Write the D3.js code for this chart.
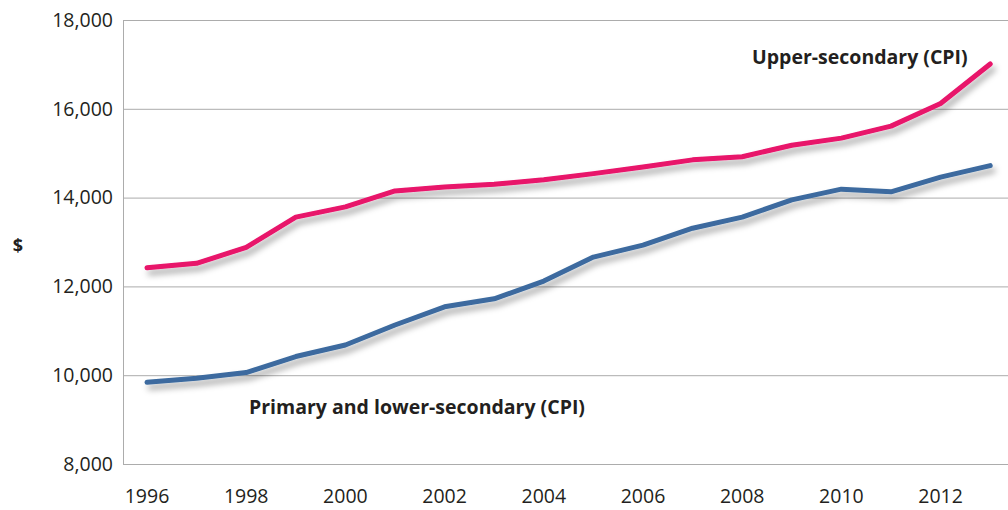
<!DOCTYPE html>
<html>
<head>
<meta charset="utf-8">
<script src="https://cdn.jsdelivr.net/npm/d3@7"></script>
<style>
  body { margin: 0; background: #fff; }
  text { font-family: 'Open Sans', 'Noto Sans', sans-serif; fill: #231f20; }
</style>
</head>
<body>
<div id="chart"></div>
<script>
const years = [1996, 1997, 1998, 1999, 2000, 2001, 2002, 2003, 2004, 2005, 2006, 2007, 2008, 2009, 2010, 2011, 2012, 2013];
const upperSecondary = [12420, 12520, 12880, 13560, 13790, 14150, 14240, 14300, 14400, 14540, 14690, 14850, 14920, 15180, 15340, 15610, 16120, 17010];
const primaryLower = [9840, 9930, 10060, 10420, 10680, 11130, 11540, 11720, 12120, 12660, 12930, 13310, 13560, 13950, 14190, 14130, 14460, 14720];
const yTicks = [8000, 10000, 12000, 14000, 16000, 18000];
const xTicks = [1996, 1998, 2000, 2002, 2004, 2006, 2008, 2010, 2012];

const margin = { top: 20, right: 0, bottom: 46, left: 123 };
const width = 1008 - margin.left - margin.right;
const height = 510 - margin.top - margin.bottom;

const xScale = d3.scaleLinear()
  .domain([1996, 2012])
  .range([24, 24 + 16 * 49.6]);

const yScale = d3.scaleLinear()
  .domain([8000, 18000])
  .range([height, 0]);

const svg = d3.select('#chart').append('svg')
  .attr('width', 1008)
  .attr('height', 510)
  .append('g')
  .attr('transform', `translate(${margin.left},${margin.top})`);

const defs = svg.append('defs');
defs.append('filter')
  .attr('id', 'shadow')
  .attr('x', '-5%').attr('y', '-20%')
  .attr('width', '110%').attr('height', '150%')
  .append('feDropShadow')
  .attr('dx', 3)
  .attr('dy', 5)
  .attr('stdDeviation', 3)
  .attr('flood-color', '#000')
  .attr('flood-opacity', 0.35);

// gridlines
svg.append('g')
  .selectAll('line')
  .data(yTicks)
  .enter().append('line')
  .attr('x1', 0)
  .attr('x2', width)
  .attr('y1', d => yScale(d) + 0.5)
  .attr('y2', d => yScale(d) + 0.5)
  .style('stroke', '#acacac')
  .style('stroke-width', 1);

// y axis line
svg.append('line')
  .attr('x1', 0.5).attr('x2', 0.5)
  .attr('y1', 0).attr('y2', height + 0.5)
  .style('stroke', '#acacac');

// y tick labels
svg.append('g')
  .selectAll('text')
  .data(yTicks)
  .enter().append('text')
  .attr('x', -10)
  .attr('y', d => yScale(d))
  .attr('dy', '0.35em')
  .style('text-anchor', 'end')
  .style('font-size', '19.5px')
  .text(d => d3.format(',')(d));

// x tick labels
svg.append('g')
  .selectAll('text')
  .data(xTicks)
  .enter().append('text')
  .attr('x', d => xScale(d))
  .attr('y', height + 39)
  .style('text-anchor', 'middle')
  .style('font-size', '19.5px')
  .text(d => d);

// y axis title
svg.append('text')
  .attr('x', -105)
  .attr('y', 232)
  .style('text-anchor', 'middle')
  .style('font-size', '18px')
  .style('font-weight', 'bold')
  .text('$');

const line = d3.line()
  .x((d, i) => xScale(years[i]))
  .y(d => yScale(d));

const series = [
  { name: 'Upper-secondary (CPI)', values: upperSecondary, color: '#e8136b' },
  { name: 'Primary and lower-secondary (CPI)', values: primaryLower, color: '#3c6b9f' },
];

svg.selectAll('.series')
  .data(series)
  .enter().append('path')
  .attr('class', 'series')
  .attr('d', d => line(d.values))
  .attr('filter', 'url(#shadow)')
  .style('fill', 'none')
  .style('stroke', d => d.color)
  .style('stroke-width', 5)
  .style('stroke-linecap', 'round')
  .style('stroke-linejoin', 'round');

// series labels
svg.append('text')
  .attr('x', 752 - margin.left)
  .attr('y', 64 - margin.top)
  .style('font-size', '19.5px')
  .style('font-weight', 'bold')
  .text('Upper-secondary (CPI)');

svg.append('text')
  .attr('x', 249 - margin.left)
  .attr('y', 414 - margin.top)
  .style('font-size', '19.5px')
  .style('font-weight', 'bold')
  .text('Primary and lower-secondary (CPI)');
</script>
</body>
</html>
